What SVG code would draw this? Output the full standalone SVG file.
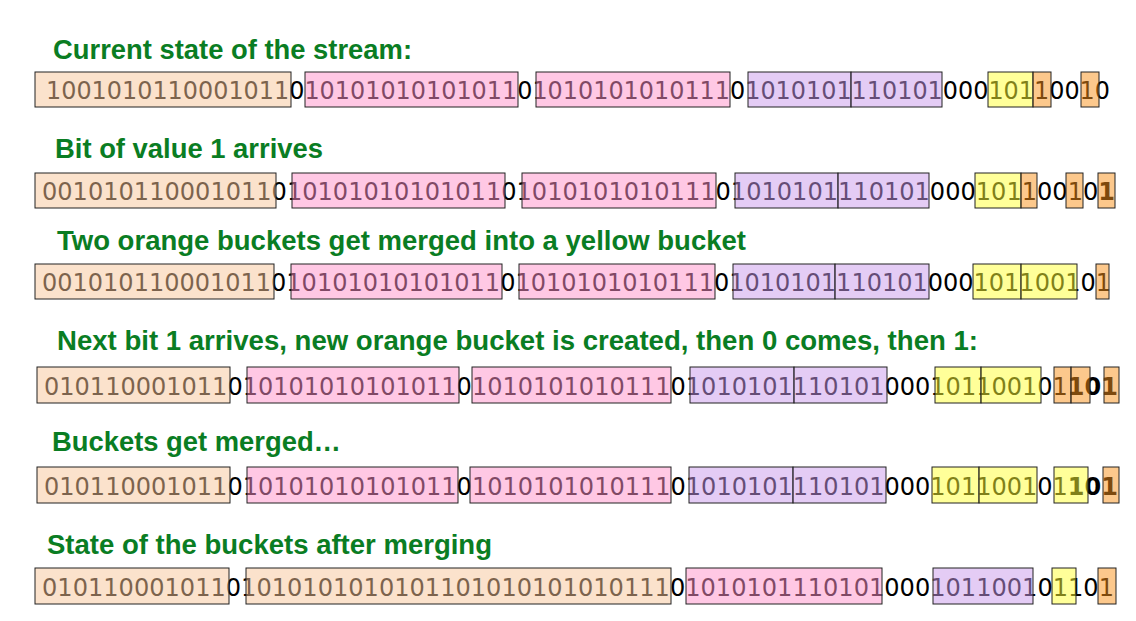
<svg xmlns="http://www.w3.org/2000/svg" width="1136" height="621" viewBox="0 0 1136 621">
<style>
.hdr{font-family:"Liberation Sans",Arial,sans-serif;font-weight:bold;font-size:27px;fill:#0a7d23}
.bits{font-family:"DejaVu Sans",sans-serif;font-size:24px;fill:#000}
.b{font-weight:bold}
rect{stroke:#222;stroke-width:1;fill-opacity:0.5}
.o{fill:#f8c59a}
.p{fill:#ff91c9}
.u{fill:#c999eb}
.y{fill:#ffff34}
.s{fill:#f99119}
</style>
<rect x="0" y="0" width="1136" height="621" fill="#fff" style="stroke:none;fill-opacity:1"/>

<g id="row1">
<text class="hdr" x="53" y="59" textLength="359" lengthAdjust="spacingAndGlyphs">Current state of the stream:</text>
<text class="bits" x="46" y="99" textLength="1064" lengthAdjust="spacingAndGlyphs">1001010110001011010101010101011010101010101110101010111010100010110010</text>
<rect class="o" x="35" y="72" width="256" height="35"/>
<rect class="p" x="305" y="72" width="213" height="35"/>
<rect class="p" x="536" y="72" width="194" height="35"/>
<rect class="u" x="748" y="72" width="103" height="35"/>
<rect class="u" x="851" y="72" width="91" height="35"/>
<rect class="y" x="988" y="72" width="45" height="35"/>
<rect class="s" x="1033" y="72" width="18" height="35"/>
<rect class="s" x="1081" y="72" width="18" height="35"/>
</g>

<g id="row2">
<text class="hdr" x="55" y="158" textLength="268" lengthAdjust="spacingAndGlyphs">Bit of value 1 arrives</text>
<text class="bits" x="42" y="200" textLength="1073" lengthAdjust="spacingAndGlyphs">001010110001011010101010101011010101010101110101010111010100010110010<tspan class="b">1</tspan></text>
<rect class="o" x="35" y="173" width="241" height="35"/>
<rect class="p" x="292" y="173" width="213" height="35"/>
<rect class="p" x="522" y="173" width="194" height="35"/>
<rect class="u" x="735" y="173" width="103" height="35"/>
<rect class="u" x="838" y="173" width="91" height="35"/>
<rect class="y" x="975" y="173" width="46" height="35"/>
<rect class="s" x="1021" y="173" width="16" height="35"/>
<rect class="s" x="1066" y="173" width="17" height="35"/>
<rect class="s" x="1098" y="173" width="17" height="35"/>
</g>

<g id="row3">
<text class="hdr" x="57" y="250" textLength="689" lengthAdjust="spacingAndGlyphs">Two orange buckets get merged into a yellow bucket</text>
<text class="bits" x="42" y="291" textLength="1069" lengthAdjust="spacingAndGlyphs">0010101100010110101010101010110101010101011101010101110101000101100101</text>
<rect class="o" x="35" y="264" width="239" height="35"/>
<rect class="p" x="291" y="264" width="211" height="35"/>
<rect class="p" x="519" y="264" width="196" height="35"/>
<rect class="u" x="733" y="264" width="102" height="35"/>
<rect class="u" x="835" y="264" width="94" height="35"/>
<rect class="y" x="973" y="264" width="48" height="35"/>
<rect class="y" x="1021" y="264" width="56" height="35"/>
<rect class="s" x="1096" y="264" width="13" height="35"/>
</g>

<g id="row4">
<text class="hdr" x="57" y="350" textLength="921" lengthAdjust="spacingAndGlyphs">Next bit 1 arrives, new orange bucket is created, then 0 comes, then 1:</text>
<text class="bits" x="44" y="395" textLength="1074" lengthAdjust="spacingAndGlyphs">0101100010110101010101010110101010101011101010101110101000101100101<tspan class="b">101</tspan></text>
<rect class="o" x="37" y="367" width="193" height="36"/>
<rect class="p" x="247" y="367" width="212" height="36"/>
<rect class="p" x="472" y="367" width="199" height="36"/>
<rect class="u" x="690" y="367" width="104" height="36"/>
<rect class="u" x="794" y="367" width="93" height="36"/>
<rect class="y" x="935" y="367" width="46" height="36"/>
<rect class="y" x="981" y="367" width="60" height="36"/>
<rect class="s" x="1054" y="367" width="17" height="36"/>
<rect class="s" x="1071" y="367" width="19" height="36"/>
<rect class="s" x="1104" y="367" width="15" height="36"/>
</g>

<g id="row5">
<text class="hdr" x="52" y="451" textLength="289" lengthAdjust="spacingAndGlyphs">Buckets get merged…</text>
<text class="bits" x="44" y="495" textLength="1074" lengthAdjust="spacingAndGlyphs">0101100010110101010101010110101010101011101010101110101000101100101<tspan class="b">101</tspan></text>
<rect class="o" x="37" y="467" width="193" height="36"/>
<rect class="p" x="247" y="467" width="211" height="36"/>
<rect class="p" x="470" y="467" width="201" height="36"/>
<rect class="u" x="689" y="467" width="104" height="36"/>
<rect class="u" x="793" y="467" width="93" height="36"/>
<rect class="y" x="932" y="467" width="47" height="36"/>
<rect class="y" x="979" y="467" width="58" height="36"/>
<rect class="y" x="1054" y="467" width="34" height="36"/>
<rect class="s" x="1103" y="467" width="16" height="36"/>
</g>

<g id="row6">
<text class="hdr" x="47" y="554" textLength="445" lengthAdjust="spacingAndGlyphs">State of the buckets after merging</text>
<text class="bits" x="42" y="596" textLength="1072" lengthAdjust="spacingAndGlyphs">0101100010110101010101010110101010101011101010101110101000101100101101</text>
<rect class="o" x="35" y="568" width="194" height="36"/>
<rect class="o" x="246" y="568" width="425" height="36"/>
<rect class="p" x="686" y="568" width="196" height="36"/>
<rect class="u" x="933" y="568" width="100" height="36"/>
<rect class="y" x="1052" y="568" width="24" height="36"/>
<rect class="s" x="1098" y="568" width="18" height="36"/>
</g>
</svg>
